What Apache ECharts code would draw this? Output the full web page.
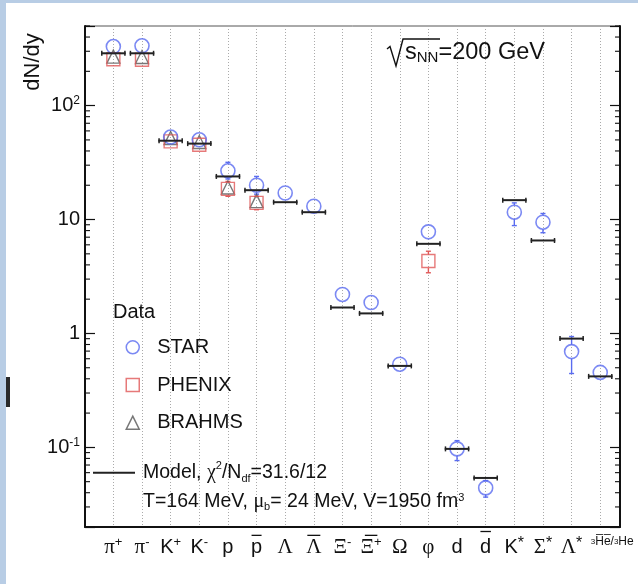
<!DOCTYPE html>
<html>
<head>
<meta charset="utf-8">
<script src="https://cdn.jsdelivr.net/npm/echarts@6/dist/echarts.min.js"></script>
<style>
  html, body { margin: 0; padding: 0; background: #fff; }
  #chart { width: 638px; height: 584px; }
</style>
</head>
<body>
<div id="chart"></div>
<script>
// Particle species along the x axis. Each label has two lines: an overbar line
// (empty for particles) and the symbol itself with super/subscripts.
const particleLabels = [
  '{e| }\n{g|π}{sup|+}', '{e| }\n{g|π}{sup|-}', '{e| }\n{m|K}{sup|+}', '{e| }\n{m|K}{sup|-}',
  '{e| }\n{m|p}', '{pb| }\n{m|p}',
  '{e| }\n{g|Λ}', '{lb| }\n{g|Λ}', '{e| }\n{g|Ξ}{sup|-}', '{xb| }\n{g|Ξ}{sup|+}',
  '{e| }\n{g|Ω}', '{e| }\n{g|φ}',
  '{e| }\n{m|d}', '{db| }\n{m|d}', '{e| }\n{m|K}{star|*}', '{e| }\n{g|Σ}{star|*}', '{e| }\n{g|Λ}{star|*}',
  '{e| }\n{hp| }{ss|3}{h|H\u0305e\u0305/}{ss|3}{h|He}'
];
const particleIndex = [0, 1, 2, 3, 4, 5, 6, 7, 8, 9, 10, 11, 12, 13, 14, 15, 16, 17];
// the narrow-spaced helium ratio label sits on its own label row
const mainLabelIndex = particleIndex.slice(0, 17);
const ratioLabelIndex = [17];

// STAR yields (all species) and visible error-bar bounds
const starYield   = [330, 335, 53.0, 50.1, 26.8, 20.0, 17.1, 13.1, 2.20, 1.87, 0.537, 7.80, 0.097, 0.0441, 11.6, 9.47, 0.693, 0.455];
const starErrLow  = [null, null, null, null, 22.7, 16.7, null, null, null, null, null, null, 0.0766, 0.0366, 8.85, 7.66, 0.445, null];
const starErrHigh = [null, null, null, null, 31.8, 23.9, null, null, null, null, null, null, 0.1146, 0.0511, 14.0, 11.3, 0.940, null];

// PHENIX yields
const phenixIndex   = [0, 1, 2, 3, 4, 5, 11];
const phenixYield   = [255, 253, 48.5, 45.4, 18.6, 14.0, 4.32];
const phenixErrLow  = [null, null, null, null, 16.0, 12.2, 3.41];
const phenixErrHigh = [null, null, null, null, 21.6, 16.0, 5.27];

// BRAHMS yields
const brahmsIndex = [0, 1, 2, 3, 4, 5];
const brahmsYield = [269, 267, 51.9, 47.9, 19.1, 14.5];

// Statistical-model fit
const modelYield = [288, 288, 49.2, 46.4, 23.9, 18.1, 14.2, 11.6, 1.69, 1.50, 0.519, 6.12, 0.097, 0.0539, 14.8, 6.55, 0.901, 0.420];

// Decade labels on the y axis
const yDecadeLabels = { '-1': '10{sup|-1}', '0': '1', '1': '10', '2': '10{sup|2}' };
const yMin = 0.02, yMax = 500;
const xMin = -0.99, xMax = 17.69;
const minorMultipliers = [2, 3, 4, 5, 6, 7, 8, 9];
const minorDecades = [0.01, 0.1, 1, 10, 100];

const SANS = "'Liberation Sans', Arial, Helvetica, sans-serif";
const SERIF = "'Liberation Serif', 'Times New Roman', serif";
const BLUE = '#5a6cf0', RED = '#e05858', GREY = '#555555', INK = '#111111';

const minorTicks = [];
minorDecades.forEach(d => minorMultipliers.forEach(m => {
  const v = +(d * m).toPrecision(3);
  if (v >= yMin && v <= yMax) minorTicks.push([0, v]);
}));

function errData(idx, lo, hi, ctr) {
  const out = [];
  idx.forEach((i, k) => { if (lo[k] != null) out.push([i, lo[k], hi[k], ctr[k]]); });
  return out;
}

function errRender(color) {
  return function (params, api) {
    const x = api.coord([api.value(0), api.value(3)])[0];
    const yc = api.coord([api.value(0), api.value(3)])[1];
    const yl = api.coord([api.value(0), api.value(1)])[1];
    const yh = api.coord([api.value(0), api.value(2)])[1];
    const r = 7, cap = 2.5;
    const style = { stroke: color, lineWidth: 1.4 };
    const ch = [];
    if (yh < yc - r) ch.push({ type: 'line', shape: { x1: x, y1: yh, x2: x, y2: yc - r }, style });
    if (yl > yc + r) ch.push({ type: 'line', shape: { x1: x, y1: yc + r, x2: x, y2: yl }, style });
    ch.push({ type: 'line', shape: { x1: x - cap, y1: yh, x2: x + cap, y2: yh }, style });
    ch.push({ type: 'line', shape: { x1: x - cap, y1: yl, x2: x + cap, y2: yl }, style });
    return { type: 'group', children: ch };
  };
}

function overbar(width, vAlign) {
  return { fontSize: 1, lineHeight: 9, width: width, height: 1.3, backgroundColor: INK, verticalAlign: vAlign };
}

const labelRich = {
  e: { fontSize: 1, lineHeight: 9 },
  pb: overbar(10, 'bottom'),
  lb: overbar(13, 'bottom'),
  xb: overbar(12.5, 'bottom'),
  db: overbar(10.5, 'middle'),
  m: { fontFamily: SANS, fontSize: 20, lineHeight: 22, color: INK },
  g: { fontFamily: SERIF, fontSize: 21, lineHeight: 22, color: INK },
  sup: { fontFamily: SANS, fontSize: 13, verticalAlign: 'top', color: INK },
  star: { fontFamily: SANS, fontSize: 16, verticalAlign: 'top', color: INK },
  ss: { fontFamily: SANS, fontSize: 8, verticalAlign: 'middle', color: INK },
  h: { fontFamily: SANS, fontSize: 12, verticalAlign: 'bottom', color: INK },
  hp: { fontSize: 1, width: 24 }
};

const chart = echarts.init(document.getElementById('chart'), null, { renderer: 'canvas' });

const option = {
  animation: false,
  backgroundColor: '#ffffff',
  grid: { left: 85, top: 26, width: 535, height: 501, show: true, borderColor: '#555', borderWidth: 1, backgroundColor: 'transparent' },
  xAxis: [
    {
      type: 'value', min: xMin, max: xMax, position: 'bottom',
      axisLine: { show: true, onZero: false, lineStyle: { color: INK, width: 2 } },
      axisTick: { show: false, customValues: particleIndex },
      splitLine: { show: true, lineStyle: { color: '#aaaaaa', width: 1, type: [1, 2] } },
      axisLabel: {
        customValues: mainLabelIndex,
        hideOverlap: false,
        margin: 0,
        color: INK,
        formatter: v => particleLabels[Math.round(v)],
        rich: labelRich
      }
    },
    {
      type: 'value', min: xMin, max: xMax, position: 'bottom',
      axisLine: { show: false, onZero: false },
      axisTick: { show: false, customValues: ratioLabelIndex },
      splitLine: { show: false },
      axisLabel: {
        customValues: ratioLabelIndex,
        margin: 0,
        color: INK,
        formatter: v => particleLabels[Math.round(v)],
        rich: labelRich
      }
    }
  ],
  yAxis: [
    {
      type: 'log', logBase: 10, min: yMin, max: yMax, position: 'left',
      axisLine: { show: true, onZero: false, lineStyle: { color: INK, width: 2 } },
      axisTick: { show: true, inside: true, length: 10, lineStyle: { color: INK, width: 1.2 } },
      splitLine: { show: false },
      axisLabel: {
        margin: 5, color: INK, fontFamily: SANS, fontSize: 20,
        formatter: v => {
          const e = Math.log10(v);
          const r = Math.round(e);
          return Math.abs(e - r) < 1e-6 && yDecadeLabels[r] !== undefined ? yDecadeLabels[r] : '';
        },
        rich: { sup: { fontFamily: SANS, fontSize: 12, verticalAlign: 'top', color: INK, lineHeight: 22 } }
      }
    },
    {
      type: 'log', logBase: 10, min: yMin, max: yMax, position: 'right',
      axisLine: { show: true, onZero: false, lineStyle: { color: INK, width: 2 } },
      axisTick: { show: true, inside: true, length: 10, lineStyle: { color: INK, width: 1.2 } },
      axisLabel: { show: false },
      splitLine: { show: false }
    }
  ],
  legend: [
    {
      orient: 'vertical', left: 125.5, top: 335.3, padding: 0,
      itemWidth: 13, itemHeight: 13, itemGap: 13.7,
      selectedMode: false,
      textStyle: { fontFamily: SANS, fontSize: 20, color: INK, lineHeight: 24, padding: [0, 0, 0, 13] },
      data: [
        { name: 'STAR', icon: 'circle', itemStyle: { color: 'rgba(255,255,255,0)', borderColor: BLUE, borderWidth: 1.5 } },
        { name: 'PHENIX', icon: 'rect', itemStyle: { color: 'rgba(255,255,255,0)', borderColor: RED, borderWidth: 1.5 } },
        { name: 'BRAHMS', icon: 'triangle', itemStyle: { color: 'rgba(255,255,255,0)', borderColor: GREY, borderWidth: 1.5 } }
      ]
    },
    {
      orient: 'vertical', left: 93, top: 460.7, padding: 0,
      itemWidth: 42, itemHeight: 2, selectedMode: false,
      formatter: () => 'Model, {g|χ}{sup|2}/N{sub|df}=31.6/12',
      textStyle: {
        fontFamily: SANS, fontSize: 19.5, color: INK, lineHeight: 24, padding: [0, 0, 0, 3],
        rich: {
          g: { fontFamily: SERIF, fontSize: 20, color: INK },
          sup: { fontFamily: SANS, fontSize: 11, verticalAlign: 'top', color: INK },
          sub: { fontFamily: SANS, fontSize: 11, verticalAlign: 'bottom', color: INK }
        }
      },
      data: [{ name: 'Model', icon: 'rect', itemStyle: { color: '#222', borderWidth: 0 } }]
    }
  ],
  series: [
    {
      // minor log ticks on both vertical axes
      type: 'custom', name: 'minorTicks', silent: true, clip: false, z: 4,
      data: minorTicks,
      renderItem: (params, api) => {
        const y = api.coord([0, api.value(1)])[1];
        const cs = params.coordSys;
        const st = { stroke: INK, lineWidth: 1.1 };
        return {
          type: 'group', children: [
            { type: 'line', shape: { x1: cs.x, y1: y, x2: cs.x + 5, y2: y }, style: st },
            { type: 'line', shape: { x1: cs.x + cs.width - 5, y1: y, x2: cs.x + cs.width, y2: y }, style: st }
          ]
        };
      }
    },
    {
      type: 'custom', name: 'starErr', silent: true, z: 5,
      data: errData(particleIndex, starErrLow, starErrHigh, starYield),
      renderItem: errRender(BLUE)
    },
    {
      type: 'custom', name: 'phenixErr', silent: true, z: 5,
      data: errData(phenixIndex, phenixErrLow, phenixErrHigh, phenixYield),
      renderItem: errRender(RED)
    },
    {
      type: 'scatter', name: 'BRAHMS', z: 6, symbol: 'triangle', symbolSize: 13,
      itemStyle: { color: 'rgba(255,255,255,0)', borderColor: GREY, borderWidth: 1.4 },
      data: brahmsIndex.map((i, k) => [i, brahmsYield[k]])
    },
    {
      type: 'scatter', name: 'PHENIX', z: 6, symbol: 'rect', symbolSize: 13,
      itemStyle: { color: 'rgba(255,255,255,0)', borderColor: RED, borderWidth: 1.4 },
      data: phenixIndex.map((i, k) => [i, phenixYield[k]])
    },
    {
      type: 'scatter', name: 'STAR', z: 6, symbol: 'circle', symbolSize: 14,
      itemStyle: { color: 'rgba(255,255,255,0)', borderColor: BLUE, borderWidth: 1.6 },
      data: particleIndex.map(i => [i, starYield[i]])
    },
    {
      type: 'custom', name: 'Model', silent: true, z: 8,
      data: particleIndex.map(i => [i, modelYield[i]]),
      renderItem: (params, api) => {
        const i = api.value(0), v = api.value(1);
        const a = api.coord([i - 0.43, v]);
        const b = api.coord([i + 0.43, v]);
        const st = { stroke: '#222', lineWidth: 2 };
        const cs = { stroke: '#222', lineWidth: 1.5 };
        return {
          type: 'group', children: [
            { type: 'line', shape: { x1: a[0], y1: a[1], x2: b[0], y2: b[1] }, style: st },
            { type: 'line', shape: { x1: a[0] + 0.75, y1: a[1] - 2.5, x2: a[0] + 0.75, y2: a[1] + 2.5 }, style: cs },
            { type: 'line', shape: { x1: b[0] - 0.75, y1: b[1] - 2.5, x2: b[0] - 0.75, y2: b[1] + 2.5 }, style: cs }
          ]
        };
      }
    }
  ],
  graphic: [
    { type: 'rect', shape: { x: 0, y: 0, width: 6, height: 584 }, style: { fill: '#b8cde5' }, z: 100 },
    { type: 'rect', shape: { x: 0, y: 0, width: 638, height: 3 }, style: { fill: '#b8cde5' }, z: 100 },
    { type: 'rect', shape: { x: 6, y: 377, width: 4, height: 30 }, style: { fill: '#2a2a2a' }, z: 100 },
    {
      type: 'text', x: 33, y: 62, rotation: Math.PI / 2, z: 100,
      style: { text: 'dN/dy', fontFamily: SANS, fontSize: 22, fill: INK, align: 'center', verticalAlign: 'middle' }
    },
    {
      type: 'text', x: 113, y: 312, z: 100,
      style: { text: 'Data', fontFamily: SANS, fontSize: 20, fill: INK, align: 'left', verticalAlign: 'middle' }
    },
    {
      type: 'text', x: 143, y: 502, z: 100,
      style: {
        text: 'T=164 MeV, {g|μ}{sub|b}= 24 MeV, V=1950 fm{sup|3}',
        fontFamily: SANS, fontSize: 19.5, fill: INK, align: 'left', verticalAlign: 'middle',
        rich: {
          g: { fontFamily: SERIF, fontSize: 20, fill: INK },
          sub: { fontFamily: SANS, fontSize: 11, verticalAlign: 'bottom', fill: INK },
          sup: { fontFamily: SANS, fontSize: 11, verticalAlign: 'top', fill: INK }
        }
      }
    },
    {
      type: 'polyline', z: 100,
      shape: { points: [[387, 49], [390, 46.5], [396, 66], [403, 39], [440, 39]] },
      style: { stroke: INK, lineWidth: 1.4, fill: null }
    },
    {
      type: 'text', x: 405, y: 53, z: 100,
      style: {
        text: 's{sub|NN}=200 GeV',
        fontFamily: SANS, fontSize: 23.5, fill: INK, align: 'left', verticalAlign: 'middle',
        rich: { sub: { fontFamily: SANS, fontSize: 15, verticalAlign: 'bottom', fill: INK } }
      }
    }
  ]
};

chart.setOption(option);
</script>
</body>
</html>
